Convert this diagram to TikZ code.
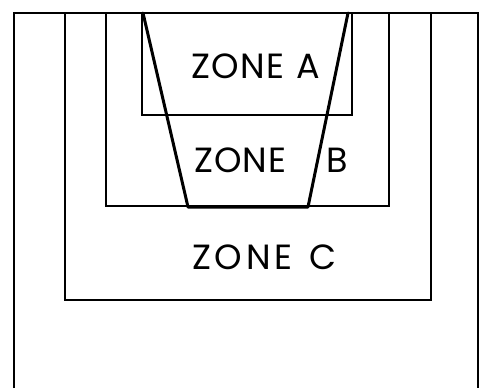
\documentclass[tikz,border=0pt]{standalone}
\usepackage{fontspec}
\setmainfont{Poppins}
\begin{document}
\begin{tikzpicture}[x=1pt,y=-1pt,
  outerline/.style={line width=2.4pt,line join=miter},
  zoneline/.style={line width=1.4pt,line join=miter},
  trapline/.style={line width=3pt,line join=round,line cap=round},
  lbl/.style={inner sep=0pt,font=\fontsize{35}{35}\selectfont,anchor=base}]
\useasboundingbox (0,0) rectangle (489,388);
% outer frame (open at the bottom)
\draw[outerline] (14,388) -- (14,13) -- (478,13) -- (478,388);
% zone C
\draw[zoneline] (65,13) -- (65,300) -- (431,300) -- (431,13);
% zone B
\draw[zoneline] (106,13) -- (106,206) -- (389,206) -- (389,13);
% zone A
\draw[zoneline] (142,13) -- (142,115) -- (352,115) -- (352,13);
% trapezoid
\draw[trapline] (143,13) -- (188,207) -- (308,207) -- (348,13);
% labels
\node[lbl] (za) at (255.5,78) {\addfontfeatures{LetterSpace=4}ZONE\hspace{12pt}A};
\node[lbl] (zb) at (271,172) {\addfontfeatures{LetterSpace=3}ZONE\hspace{40pt}B};
\node[lbl] (zc) at (264.5,269) {\addfontfeatures{LetterSpace=11}ZONE\hspace{17pt}C};
\end{tikzpicture}
\end{document}
